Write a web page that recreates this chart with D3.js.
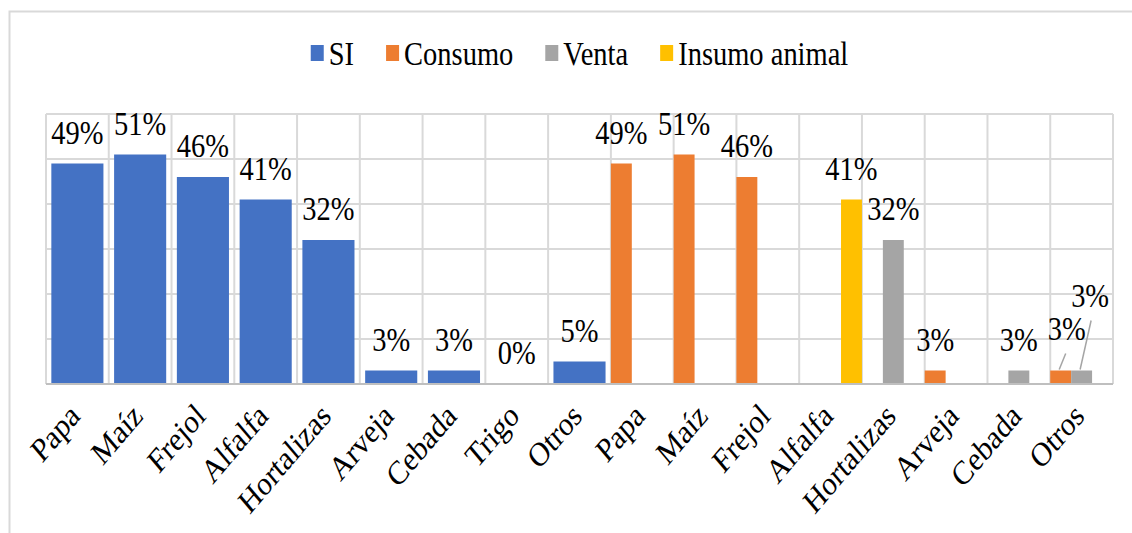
<!DOCTYPE html>
<html>
<head>
<meta charset="utf-8">
<script src="https://cdn.jsdelivr.net/npm/d3@7"></script>
<style>
  body { margin: 0; background: #fff; }
  svg { display: block; }
</style>
</head>
<body>
<div id="chart"></div>
<script>
// categories (two groups: SI, then use of the harvest)
var categories = ["Papa", "Maíz", "Frejol", "Alfalfa", "Hortalizas", "Arveja", "Cebada", "Trigo", "Otros",
                  "Papa", "Maíz", "Frejol", "Alfalfa", "Hortalizas", "Arveja", "Cebada", "Otros"];
var si      = [49, 51, 46, 41, 32, 3, 3, 0, 5, null, null, null, null, null, null, null, null];
var consumo = [null, null, null, null, null, null, null, null, null, 49, 51, 46, null, null, 3, null, 3];
var venta   = [null, null, null, null, null, null, null, null, null, null, null, null, null, 32, null, 3, 3];
var insumo  = [null, null, null, null, null, null, null, null, null, null, null, null, 41, null, null, null, null];
var seriesNames = ["SI", "Consumo", "Venta", "Insumo animal"];
var yTicks = [0, 10, 20, 30, 40, 50, 60];

var colors = {"SI": "#4472C4", "Consumo": "#ED7D31", "Venta": "#A5A5A5", "Insumo animal": "#FFC000"};

var W = 1132, H = 533;
var pLeft = 46, pRight = 1113, pTop = 114, pBottom = 384;
var stretch = 1.18;  // the reference text is a bit taller than wide
var fs = 28.5;
var font = "'Liberation Serif', 'DejaVu Serif', serif";

var svg = d3.select("#chart").append("svg")
    .attr("width", W).attr("height", H);

// outer frame (only left and top visible)
svg.append("path")
    .attr("d", "M9.5," + H + " V11.5 H" + W)
    .attr("fill", "none").attr("stroke", "#d9d9d9").attr("stroke-width", 2);

var idx = d3.range(categories.length);
var x = d3.scaleBand().domain(idx).range([pLeft, pRight]).padding(0);
var xSI = d3.scaleBand().domain(idx).range([pLeft, pRight]).paddingInner(0.17).paddingOuter(0.085);
var xSub = d3.scaleBand().domain(["Consumo", "Venta", "Insumo animal"]).range([0, x.bandwidth()]);
var y = d3.scaleLinear().domain([0, 60]).range([pBottom, pTop]);

// gridlines
var grid = svg.append("g");
grid.selectAll("line.h").data(yTicks).enter().append("line")
    .attr("x1", pLeft).attr("x2", pRight)
    .attr("y1", d => y(d)).attr("y2", d => y(d))
    .attr("stroke", "#d9d9d9").attr("stroke-width", 2);
grid.selectAll("line.v").data(d3.range(categories.length + 1)).enter().append("line")
    .attr("x1", d => pLeft + d * x.step()).attr("x2", d => pLeft + d * x.step())
    .attr("y1", pTop).attr("y2", pBottom)
    .attr("stroke", "#d9d9d9").attr("stroke-width", 2);

// SI bars (wide)
var siData = idx.filter(i => si[i] !== null).map(i => ({i: i, v: si[i]}));
svg.append("g").selectAll("rect").data(siData).enter().append("rect")
    .attr("x", d => xSI(d.i)).attr("width", xSI.bandwidth())
    .attr("y", d => y(d.v)).attr("height", d => y(0) - y(d.v))
    .attr("fill", colors["SI"]);

// other series (clustered)
var rest = [];
[["Consumo", consumo], ["Venta", venta], ["Insumo animal", insumo]].forEach(function(s) {
  s[1].forEach(function(v, i) { if (v !== null) rest.push({s: s[0], i: i, v: v}); });
});
svg.append("g").selectAll("rect").data(rest).enter().append("rect")
    .attr("x", d => x(d.i) + xSub(d.s)).attr("width", xSub.bandwidth())
    .attr("y", d => y(d.v)).attr("height", d => y(0) - y(d.v))
    .attr("fill", d => colors[d.s]);

// baseline
svg.append("line").attr("x1", pLeft).attr("x2", pRight)
    .attr("y1", pBottom).attr("y2", pBottom)
    .attr("stroke", "#bfbfbf").attr("stroke-width", 2);

function stxt(g, px, py, str, anchor, rot) {
  return g.append("text")
      .attr("transform", "translate(" + px + "," + py + ") scale(1," + stretch + ")" + (rot ? " rotate(" + rot + ")" : ""))
      .attr("text-anchor", anchor || "middle")
      .attr("font-family", font)
      .attr("font-size", fs)
      .attr("fill", "#000")
      .text(str);
}

// data labels
var lbl = svg.append("g");
siData.forEach(function(d) {
  stxt(lbl, xSI(d.i) + xSI.bandwidth() / 2, y(d.v) - 20, d.v + "%");
});
// the two labels on the last "Otros" are moved up with leader lines
var moved = {"Consumo": [6, -11], "Venta": [8.5, -44]};
rest.forEach(function(d) {
  var cx = x(d.i) + xSub(d.s) + xSub.bandwidth() / 2;
  var ly = y(d.v) - 20;
  if (d.i === categories.length - 1) {
    var off = moved[d.s];
    lbl.append("line")
        .attr("x1", cx - 1.5).attr("y1", y(d.v) - 1)
        .attr("x2", cx + off[0] + (d.s === "Venta" ? 1 : -1)).attr("y2", ly + off[1] + 14)
        .attr("stroke", "#a5a5a5").attr("stroke-width", 1.5);
    stxt(lbl, cx + off[0], ly + off[1], d.v + "%");
  } else {
    stxt(lbl, cx, ly, d.v + "%");
  }
});

// category labels (rotated)
var xl = svg.append("g");
idx.forEach(function(i) {
  var cx = x(i) + x.bandwidth() / 2;
  stxt(xl, cx - 10, 401, categories[i], "end", -45).attr("dy", "0.7em");
});

// legend, centred over the plot
var leg = svg.append("g");
var lx = 0;
seriesNames.forEach(function(n, k) {
  if (k > 0) lx += 32;
  leg.append("rect").attr("x", lx).attr("y", 45).attr("width", 13).attr("height", 16)
      .attr("fill", colors[n]);
  var t = stxt(leg, lx + 18, 65, n, "start");
  lx += 18 + t.node().getComputedTextLength();
});
leg.attr("transform", "translate(" + ((pLeft + pRight) / 2 - lx / 2) + ",0)");
</script>
</body>
</html>
